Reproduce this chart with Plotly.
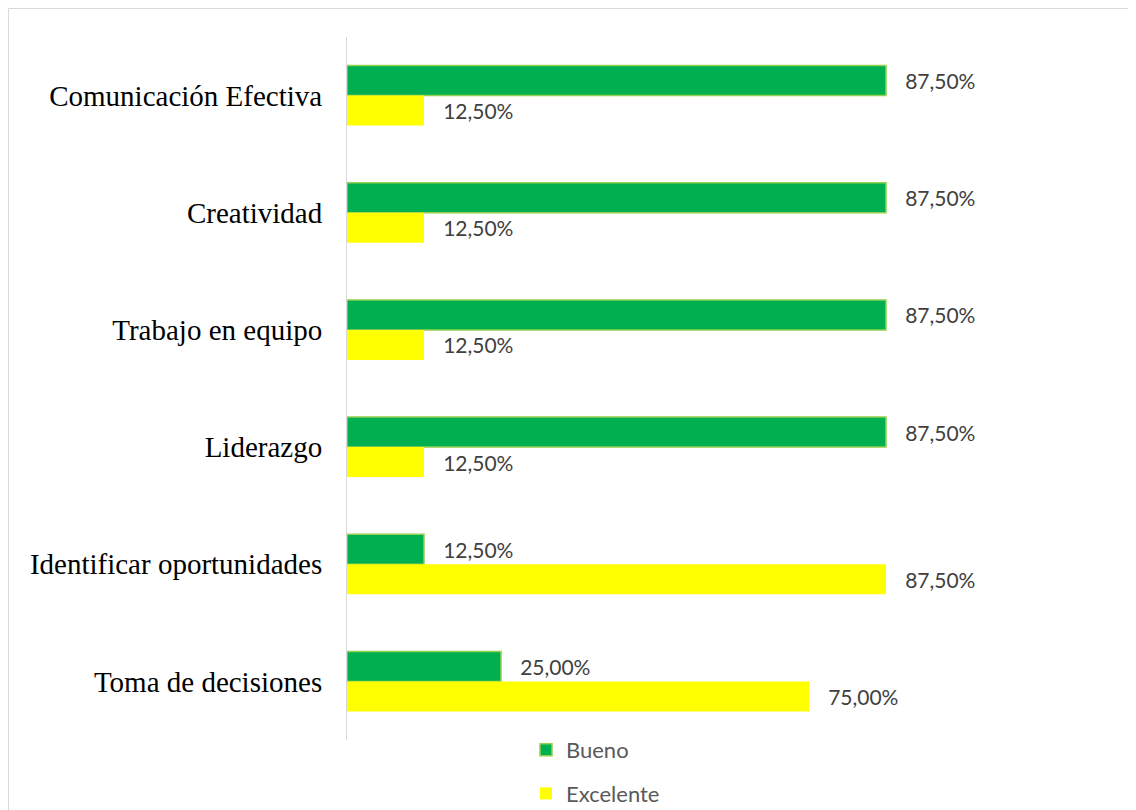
import plotly.graph_objects as go

categories = ["Comunicación Efectiva", "Creatividad", "Trabajo en equipo",
              "Liderazgo", "Identificar oportunidades", "Toma de decisiones"]
bueno = [87.5, 87.5, 87.5, 87.5, 12.5, 25.0]
excelente = [12.5, 12.5, 12.5, 12.5, 87.5, 75.0]

def fmt(v):
    return "\u00a0\u00a0\u00a0" + f"{v:.2f}".replace(".", ",") + "%"

W, H = 1136, 810
L, T = 339, 29
pw, ph = 616, 703
R, B = W - L - pw, H - T - ph

fig = go.Figure()
fig.add_trace(go.Bar(
    y=categories, x=bueno, orientation="h", name="Bueno",
    marker=dict(color="#00B050", line=dict(color="#92D050", width=1.5)),
    text=[fmt(v) for v in bueno], textposition="outside",
    textfont=dict(family="Lato", size=21, color="#404040"),
    constraintext="none", cliponaxis=False, legendgroup="a",
))
fig.add_trace(go.Bar(
    y=categories, x=excelente, orientation="h", name="Excelente",
    marker=dict(color="#FFFF00", line=dict(width=0)),
    text=[fmt(v) for v in excelente], textposition="outside",
    textfont=dict(family="Lato", size=21, color="#404040"),
    constraintext="none", cliponaxis=False, legendgroup="b",
))

# outer frame (figure border)
fig.add_shape(type="rect", xref="paper", yref="paper",
              x0=(0.5 - L) / pw, x1=(W + 20 - L) / pw,
              y0=(T + ph - H - 20) / ph, y1=(T + ph - 0.5) / ph,
              line=dict(color="#D9D9D9", width=1), fillcolor="rgba(0,0,0,0)",
              layer="below")

fig.update_layout(
    width=W, height=H,
    margin=dict(l=L, r=R, t=T, b=B, autoexpand=False),
    paper_bgcolor="white", plot_bgcolor="white",
    barmode="group", bargap=0.488, bargroupgap=0,
    xaxis=dict(range=[0, 100], visible=False, showgrid=False, zeroline=False),
    yaxis=dict(autorange="reversed", showline=True, linecolor="#D9D9D9", linewidth=1,
               showgrid=False, ticks="", ticklabelstandoff=18,
               tickfont=dict(family="Liberation Serif", size=29, color="#000000")),
    legend=dict(orientation="v", xref="container", x=518 / W, xanchor="left",
                yref="container", y=1 - 721 / H, yanchor="top",
                traceorder="grouped", tracegroupgap=12,
                font=dict(family="Lato", size=22, color="#595959"),
                bgcolor="rgba(0,0,0,0)"),
    showlegend=True,
)

fig.write_html("out.html")
